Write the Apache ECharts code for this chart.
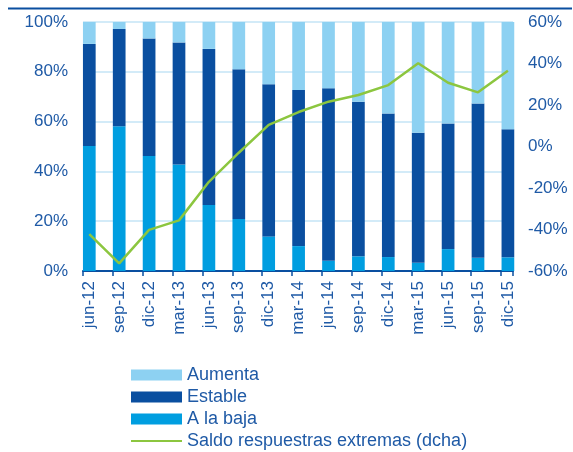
<!DOCTYPE html>
<html>
<head>
<meta charset="utf-8">
<script src="https://cdn.jsdelivr.net/npm/echarts@6/dist/echarts.min.js"></script>
<style>
html,body{margin:0;padding:0;background:#fff;}
#c{width:573px;height:452px;}
</style>
</head>
<body>
<div id="c"></div>
<script>
const categories = ['jun-12','sep-12','dic-12','mar-13','jun-13','sep-13','dic-13','mar-14','jun-14','sep-14','dic-14','mar-15','jun-15','sep-15','dic-15'];
const aLaBaja = [50.2,58.1,46.2,42.8,26.5,20.9,13.9,10.0,4.1,5.9,5.6,3.3,8.8,5.3,5.5];
const estable = [41.0,39.1,47.2,49.0,62.7,60.1,61.1,62.7,69.3,62.1,57.7,52.2,50.4,62.0,51.4];
const aumenta = [8.8,2.8,6.6,8.2,10.8,19.0,25.0,27.3,26.6,32.0,36.7,44.5,40.8,32.7,43.1];
const saldo = [-42.2,-56.3,-40.2,-35.6,-17.0,-3.0,10.4,16.6,21.6,24.8,29.6,40.1,30.7,26.1,36.5];
const leftTicks = [0, 100, 20];
const rightTicks = [-60, 60, 20];

const txt = '#1f5aa6';
const font = 'Liberation Sans, Arial, sans-serif';
const chart = echarts.init(document.getElementById('c'), null, {renderer:'canvas'});
chart.setOption({
  animation: false,
  textStyle: {fontFamily: font},
  graphic: [{type:'rect', shape:{x:8, y:7.5, width:564, height:2}, style:{fill:'#0a4fa0'}}],
  grid: [
    {left: 74.35, right: 50.15, top: 22, bottom: 181},
    {left: 83, right: 60, top: 22, bottom: 181}
  ],
  xAxis: [
    {type:'category', gridIndex:0, data: categories, boundaryGap:true,
     axisLine:{show:false}, axisTick:{show:false},
     axisLabel:{rotate:90, margin:10, color:txt, fontSize:17, fontFamily:font, interval:0}},
    {type:'value', gridIndex:1, min:0, max:14.4, interval:1,
     axisLine:{onZero:false, lineStyle:{color:'#0a4fa0', width:2}},
     axisTick:{show:true, length:5, lineStyle:{color:'#0a4fa0', width:1.5}},
     axisLabel:{show:false}, splitLine:{show:false}}
  ],
  yAxis: [
    {type:'value', gridIndex:0, min:leftTicks[0], max:leftTicks[1], show:false},
    {type:'value', gridIndex:0, min:rightTicks[0], max:rightTicks[1], show:false},
    {type:'value', gridIndex:1, position:'left', min:leftTicks[0], max:leftTicks[1], interval:leftTicks[2],
     axisLine:{show:false}, axisTick:{show:false},
     axisLabel:{formatter:'{value}%', color:txt, fontSize:17, fontFamily:font, margin:15},
     splitLine:{lineStyle:{color:'#c4e5f6', width:1.5}}},
    {type:'value', gridIndex:1, position:'right', min:rightTicks[0], max:rightTicks[1], interval:rightTicks[2],
     axisLine:{show:false}, axisTick:{show:false},
     axisLabel:{formatter:'{value}%', color:txt, fontSize:17, fontFamily:font, margin:15},
     splitLine:{show:false}}
  ],
  legend: {
    orient:'vertical', left:131, top:366, padding:0, height:86, itemWidth:51, itemHeight:11, itemGap:4,
    textStyle:{color:txt, fontSize:18, fontFamily:font, padding:[0,0,0,0]},
    data:[
      {name:'Aumenta', icon:'rect'},
      {name:'Estable', icon:'rect'},
      {name:'A la baja', icon:'rect'},
      {name:'Saldo respuestras extremas (dcha)', icon:'path://M0,0H51V2.2H0Z', itemStyle:{color:'#8cc63f'}}
    ]
  },
  series: [
    {name:'A la baja', type:'bar', stack:'s', xAxisIndex:0, yAxisIndex:0, barWidth:12.7, data:aLaBaja, itemStyle:{color:'#009ee0'}},
    {name:'Estable', type:'bar', stack:'s', xAxisIndex:0, yAxisIndex:0, barWidth:12.7, data:estable, itemStyle:{color:'#0a4fa0'}},
    {name:'Aumenta', type:'bar', stack:'s', xAxisIndex:0, yAxisIndex:0, barWidth:12.7, data:aumenta, itemStyle:{color:'#8dd1f2'}},
    {name:'Saldo respuestras extremas (dcha)', type:'line', xAxisIndex:0, yAxisIndex:1, data:saldo, symbol:'none', z:5,
     lineStyle:{color:'#8cc63f', width:2.5}, itemStyle:{color:'#8cc63f'}}
  ]
});
</script>
</body>
</html>
